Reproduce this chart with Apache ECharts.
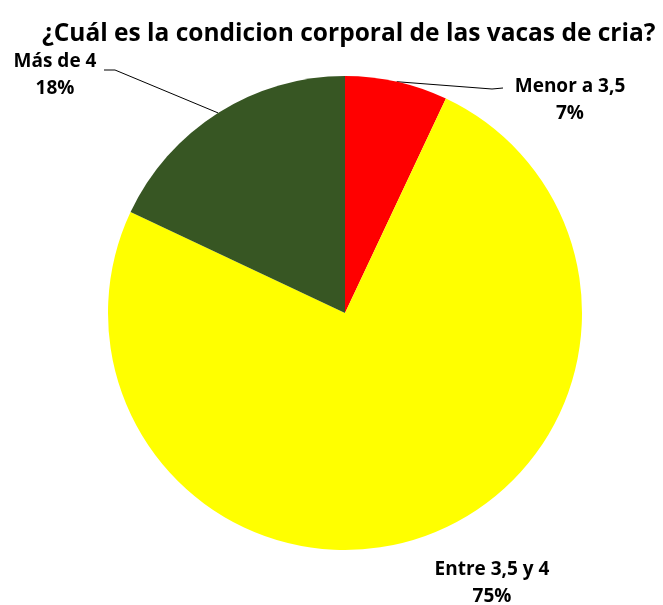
<!DOCTYPE html>
<html>
<head>
<meta charset="utf-8">
<script src="https://cdn.jsdelivr.net/npm/echarts@6/dist/echarts.min.js"></script>
<style>
    html, body { margin: 0; padding: 0; background: #ffffff; }
    #chart { width: 663px; height: 605px; }
</style>
</head>
<body>
<div id="chart"></div>
<script>
var categories = ["Menor a 3,5", "Entre 3,5 y 4", "Más de 4"];
var values = [7, 75, 18];
var colors = ["#FF0000", "#FFFF00", "#375623"];

// where each label sits (centre of the two text lines) and the leader line bend / end
var labelSpots = [
    { x: 570, y: 100, bend: [492, 89], end: [503, 88] },
    { x: 492, y: 583, bend: null, end: null },
    { x: 55, y: 75, bend: [115, 70], end: [104, 70] }
];

var myChart = echarts.init(document.getElementById("chart"));
var option = {
    backgroundColor: "#FFFFFF",
    title: {
        text: "¿Cuál es la condicion corporal de las vacas de cria?",
        left: 37,
        top: 17,
        textStyle: {
            fontFamily: "Open Sans",
            fontWeight: "bold",
            fontSize: 24.5,
            color: "#000000"
        }
    },
    series: [
        {
            type: "pie",
            center: [345, 313],
            radius: 237,
            startAngle: 90,
            clockwise: true,
            animation: false,
            data: categories.map(function(name, i) {
                return { name: name, value: values[i], itemStyle: { color: colors[i] } };
            }),
            itemStyle: { borderWidth: 0 },
            label: {
                show: true,
                position: "outside",
                formatter: "{b}\n{d}%",
                fontFamily: "Open Sans",
                fontWeight: "bold",
                fontSize: 19,
                lineHeight: 27,
                color: "#000000",
                align: "center"
            },
            labelLine: {
                show: true,
                lineStyle: { color: "#000000", width: 1 }
            },
            labelLayout: function(params) {
                var spot = labelSpots[params.dataIndex];
                var out = {
                    x: spot.x,
                    y: spot.y,
                    align: "center",
                    verticalAlign: "middle"
                };
                if (spot.bend && params.labelLinePoints) {
                    out.labelLinePoints = [params.labelLinePoints[0], spot.bend, spot.end];
                } else {
                    out.labelLinePoints = [[0, 0], [0, 0], [0, 0]];
                }
                return out;
            }
        }
    ]
};
myChart.setOption(option);
</script>
</body>
</html>
